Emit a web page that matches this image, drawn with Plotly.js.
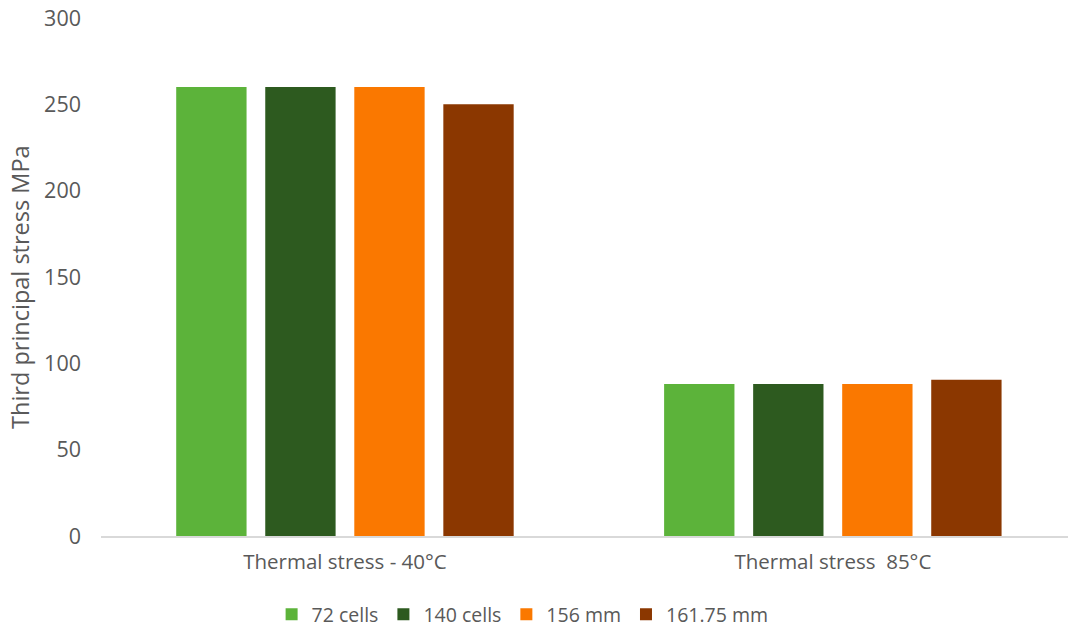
<!DOCTYPE html>
<html>
<head>
<meta charset="utf-8">
<script src="https://cdn.plot.ly/plotly-3.0.1.min.js"></script>
<style>
  html, body { margin: 0; padding: 0; background: #ffffff; }
  #chart { width: 1068px; height: 634px; }
</style>
</head>
<body>
<div id="chart"></div>
<script>
// Load cases on the category axis
const categories = ["Thermal stress - 40°C", "Thermal stress  85°C"];

// Third principal stress (MPa) for each module configuration
const seriesNames = ["72 cells", "140 cells", "156 mm", "161.75 mm"];
const cells72 = [260, 88];
const cells140 = [260, 88];
const mm156 = [260, 88];
const mm16175 = [250, 90.5];

const seriesValues = [cells72, cells140, mm156, mm16175];
const seriesColors = ["#5cb33a", "#2d5a1f", "#fa7800", "#8b3700"];

const textColor = "#595959";
const fontFamily = "'Open Sans', 'Noto Sans', sans-serif";

const traces = seriesNames.map((name, i) => ({
  type: "bar",
  name: name,
  x: categories,
  y: seriesValues[i],
  marker: { color: seriesColors[i] },
  hoverinfo: "name+y"
}));

const layout = {
  width: 1068,
  height: 634,
  margin: { l: 101, r: 0, t: 18, b: 96 },
  paper_bgcolor: "#ffffff",
  plot_bgcolor: "#ffffff",
  font: { family: fontFamily, size: 20, color: textColor },
  barmode: "group",
  bargap: 0.27,
  bargroupgap: 0.21,
  showlegend: true,
  legend: {
    orientation: "h",
    x: 0.436,
    xanchor: "center",
    y: -0.152,
    yanchor: "middle",
    font: { family: fontFamily, size: 19.5, color: textColor },
    itemwidth: 30
  },
  xaxis: {
    type: "category",
    range: [-0.5, 1.482],
    showline: true,
    linecolor: "#d9d9d9",
    linewidth: 1.5,
    showgrid: false,
    zeroline: false,
    ticks: "",
    ticklabelstandoff: 7,
    tickfont: { family: fontFamily, size: 20.5, color: textColor }
  },
  yaxis: {
    range: [0, 300],
    tickvals: [0, 50, 100, 150, 200, 250, 300],
    showline: false,
    showgrid: false,
    zeroline: false,
    ticks: "",
    ticklabelstandoff: 19,
    tickfont: { family: fontFamily, size: 21.5, color: textColor }
  },
  annotations: [{
    text: "Third principal stress MPa",
    xref: "paper",
    yref: "paper",
    x: (20 - 101) / 967,
    y: (538 - 288) / 520,
    xanchor: "center",
    yanchor: "middle",
    textangle: -90,
    showarrow: false,
    font: { family: fontFamily, size: 23.5, color: textColor }
  }]
};

Plotly.newPlot("chart", traces, layout, { displayModeBar: false, staticPlot: true });
</script>
</body>
</html>
